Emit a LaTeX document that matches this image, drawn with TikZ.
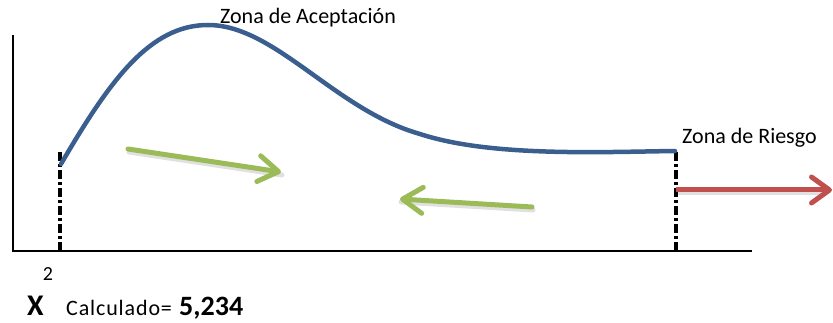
\documentclass[tikz,border=0pt]{standalone}
\usepackage{fontspec}
\setmainfont{Carlito}
\usetikzlibrary{arrows.meta}
\definecolor{curveblue}{HTML}{3A5F8F}
\definecolor{arrgreen}{HTML}{9BBB59}
\definecolor{arrred}{HTML}{C0504D}
\begin{document}
\begin{tikzpicture}[x=1pt,y=-1pt,
  axisline/.style={line width=2pt,black},
  limitline/.style={line width=3.5pt,black,dash pattern=on 9pt off 3pt on 3pt off 3pt},
  curveline/.style={line width=4.5pt,curveblue,line cap=round},
  garrow/.style={line width=5pt,arrgreen,line cap=round,-{Straight Barb[length=20pt,width=26pt,line cap=round,line join=round]}},
  rarrow/.style={line width=5pt,arrred,-{Straight Barb[length=18pt,width=26pt,line cap=round,line join=round]}},
  shadowarrow/.style={line width=5pt,black,opacity=0.12,line cap=round},
  lbl/.style={inner sep=0pt,font=\fontsize{22}{26}\selectfont},
  bigbold/.style={inner sep=0pt,font=\fontsize{28}{30}\selectfont\bfseries}
]
\useasboundingbox (0,0) rectangle (833,323);
% axes
\coordinate (o) at (13,251);
\coordinate (ytop) at (13,35);
\coordinate (xend) at (752,251);
\draw[axisline] (ytop) -- (o) -- (xend);
% limit lines
\coordinate (l1t) at (60,152);
\coordinate (l1b) at (60,251);
\coordinate (l2t) at (676,152);
\coordinate (l2b) at (676,251);
\draw[limitline] (l1t) -- (l1b);
\draw[limitline] (l2t) -- (l2b);
% curve
\coordinate (c0) at (61,164);
\coordinate (c1) at (208,25);
\coordinate (c2) at (420,134);
\coordinate (c3) at (675,151);
\draw[curveline] (c0) .. controls (110,80) and (150,25) .. (c1)
  .. controls (275,25) and (335,110) .. (c2)
  .. controls (490,157) and (600,152) .. (c3);
% green arrows
\coordinate (g1s) at (128,149);
\coordinate (g1e) at (281,172);
\coordinate (g2s) at (532,207);
\coordinate (g2e) at (400,199);
\draw[shadowarrow] ([shift={(1,3)}]g1s) -- ([shift={(1,3)}]g1e);
\draw[shadowarrow] ([shift={(1,3)}]g2s) -- ([shift={(1,3)}]g2e);
\draw[garrow] (g1s) -- (g1e);
\draw[garrow] (g2s) -- (g2e);
% red arrow
\coordinate (rs) at (676,190);
\coordinate (re) at (832,190);
\draw[shadowarrow,line cap=butt] ([shift={(0,3)}]rs) -- ([shift={(-8,3)}]re);
\draw[rarrow] (rs) -- (re);
% labels
\node[lbl,anchor=base] (za) at (308,24) {Zona de Aceptación};
\node[lbl,anchor=base west] (zr) at (682,144) {Zona de Riesgo};
\node[inner sep=0pt,anchor=base,font=\fontsize{20}{24}\selectfont] (two) at (48,280) {2};
\node[inner sep=0pt,anchor=base west,font=\fontsize{30}{32}\selectfont\bfseries] (xx) at (27,316) {X};
\node[lbl,anchor=base west,font=\fontsize{22}{26}\selectfont\addfontfeature{LetterSpace=4}] (calc) at (66,316) {Calculado=};
\node[bigbold,anchor=base west] (val) at (179,316) {5,234};
\end{tikzpicture}
\end{document}
